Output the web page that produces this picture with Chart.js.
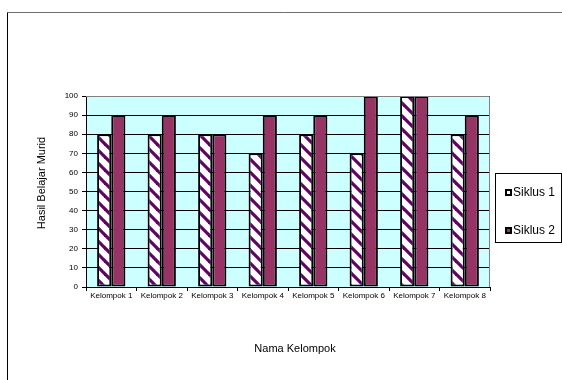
<!DOCTYPE html>
<html>
<head>
<meta charset="utf-8">
<script src="https://cdn.jsdelivr.net/npm/chart.js@4/dist/chart.umd.min.js"></script>
<style>
html,body{margin:0;padding:0;background:#fff;}
#wrap{width:562px;height:380px;position:relative;}
</style>
</head>
<body>
<div id="wrap"><canvas id="c" width="562" height="380"></canvas></div>
<script>
const categories = ["Kelompok 1","Kelompok 2","Kelompok 3","Kelompok 4","Kelompok 5","Kelompok 6","Kelompok 7","Kelompok 8"];
const siklus1 = [80, 80, 80, 70, 80, 70, 100, 80];
const siklus2 = [90, 90, 80, 90, 90, 100, 100, 90];
const seriesNames = ["Siklus 1", "Siklus 2"];
const yTicks = [0,10,20,30,40,50,60,70,80,90,100];
const xTitle = "Nama Kelompok";
const yTitle = "Hasil Belajar Murid";

const FONT = "'Liberation Sans', Arial, sans-serif";

function stripePattern() {
  const s = 13;
  const pc = document.createElement('canvas');
  pc.width = s; pc.height = s;
  const p = pc.getContext('2d');
  p.fillStyle = '#ffffff';
  p.fillRect(0,0,s,s);
  p.strokeStyle = '#660066';
  p.lineWidth = 3.2;
  p.lineCap = 'square';
  for (const off of [-s, 0, s]) {
    p.beginPath();
    p.moveTo(off, 0);
    p.lineTo(off + s, s);
    p.stroke();
  }
  return document.getElementById('c').getContext('2d').createPattern(pc, 'repeat');
}
const pat = stripePattern();
const fills = [pat, '#993366'];

const decor = {
  id: 'decor',
  beforeDraw(chart) {
    const ctx = chart.ctx;
    const a = chart.chartArea;
    ctx.save();
    // outer frame
    ctx.strokeStyle = '#6e6e6e';
    ctx.lineWidth = 1;
    ctx.beginPath();
    ctx.moveTo(7.5, 380); ctx.lineTo(7.5, 12.5); ctx.lineTo(562, 12.5);
    ctx.stroke();
    ctx.strokeStyle = '#000';
    ctx.beginPath();
    ctx.moveTo(7.5, 380); ctx.lineTo(7.5, 12.5);
    ctx.stroke();
    // plot background
    ctx.fillStyle = '#ccffff';
    ctx.fillRect(a.left, a.top, a.right - a.left, a.bottom - a.top);
    ctx.restore();
  },
  afterDatasetsDraw(chart) {
    const ctx = chart.ctx;
    const a = chart.chartArea;
    ctx.save();
    ctx.strokeStyle = '#808080';
    ctx.lineWidth = 1;
    ctx.beginPath();
    ctx.moveTo(a.left, a.top + 0.5); ctx.lineTo(a.right - 0.5, a.top + 0.5); ctx.lineTo(a.right - 0.5, a.bottom);
    ctx.stroke();
    ctx.restore();
  },
  afterDraw(chart) {
    const ctx = chart.ctx;
    ctx.save();
    ctx.fillStyle = '#000';
    ctx.font = '11px ' + FONT;
    ctx.textAlign = 'center';
    ctx.textBaseline = 'middle';
    ctx.fillText(xTitle, 295, 349);
    ctx.translate(42, 183);
    ctx.rotate(-Math.PI/2);
    ctx.fillText(yTitle, 0, 0);
    ctx.restore();

    // legend
    ctx.save();
    ctx.fillStyle = '#fff';
    ctx.fillRect(495.5, 173.5, 66, 69);
    ctx.strokeStyle = '#000';
    ctx.lineWidth = 1;
    ctx.strokeRect(495.5, 173.5, 66, 69);
    const ys = [192, 230];
    chart.data.datasets.forEach((ds, i) => {
      const y = ys[i];
      ctx.fillStyle = '#000';
      ctx.fillRect(505, y - 3, 7, 7);
      ctx.fillStyle = i === 0 ? '#ffffff' : '#993366';
      ctx.fillRect(507, y - 1, 3, 3);
      ctx.fillStyle = '#000';
      ctx.font = '12px ' + FONT;
      ctx.textAlign = 'left';
      ctx.textBaseline = 'middle';
      ctx.fillText(ds.label, 513, y + 0.5);
    });
    ctx.restore();
  }
};

new Chart(document.getElementById('c'), {
  type: 'bar',
  data: {
    labels: categories,
    datasets: [
      { label: seriesNames[0], data: siklus1, backgroundColor: fills[0], borderColor: '#000', borderWidth: 2, borderSkipped: false },
      { label: seriesNames[1], data: siklus2, backgroundColor: fills[1], borderColor: '#000', borderWidth: 2, borderSkipped: false }
    ]
  },
  options: {
    responsive: false,
    animation: false,
    devicePixelRatio: 1,
    layout: { padding: { top: 96, right: 72, left: 0, bottom: 0 } },
    plugins: { legend: { display: false }, tooltip: { enabled: false }, title: { display: false } },
    datasets: { bar: { categoryPercentage: 0.56, barPercentage: 1.0 } },
    scales: {
      x: {
        afterFit(s) { s.height = 93; },
        grid: { drawOnChartArea: false, drawTicks: true, tickLength: 4, color: '#000', offset: true },
        border: { color: '#000', width: 1 },
        ticks: { font: { family: FONT, size: 8 }, color: '#000', autoSkip: false, maxRotation: 0, minRotation: 0, padding: 0 }
      },
      y: {
        min: 0, max: 100,
        afterFit(s) { s.width = 86; },
        afterBuildTicks(s) { s.ticks = yTicks.map(v => ({ value: v })); },
        grid: { color: '#000', tickLength: 4, drawTicks: true },
        border: { color: '#000', width: 1 },
        ticks: { font: { family: FONT, size: 8 }, color: '#000', padding: 4, stepSize: 10 }
      }
    }
  },
  plugins: [decor]
});
</script>
</body>
</html>
